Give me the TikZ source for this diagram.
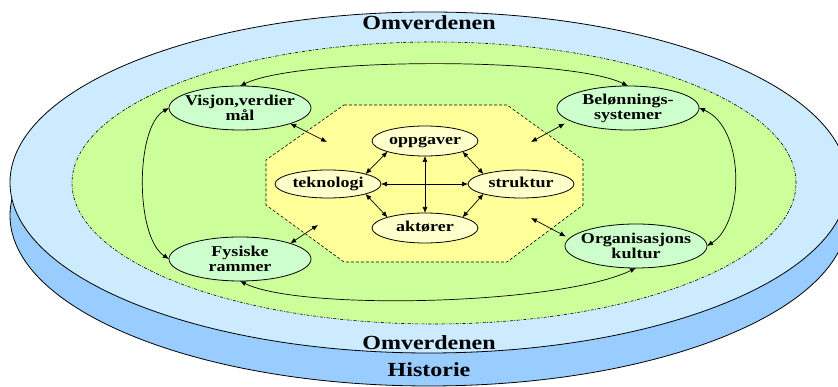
\documentclass[tikz,border=0pt]{standalone}
\usepackage{fontspec}
\setmainfont{Liberation Serif}[FakeStretch=1.2]
\usetikzlibrary{shapes.geometric,arrows.meta}
\definecolor{histblue}{HTML}{99CCFF}
\definecolor{worldblue}{HTML}{CCEBFF}
\definecolor{orggreen}{HTML}{CCFF99}
\definecolor{coreyellow}{HTML}{FFFF99}
\definecolor{taskyellow}{HTML}{FFFFCC}
\definecolor{partgreen}{HTML}{CCFFCC}
\begin{document}
\begin{tikzpicture}[%
    x=1pt,y=1pt,
    every node/.style={%
      font=\fontsize{15}{15}\selectfont\bfseries,outer sep=0pt},
    coreell/.style={draw,ellipse,fill=taskyellow,line width=0.8pt,
      inner xsep=-10pt,inner ysep=-4pt,text height=10pt,text depth=3pt,
      minimum width=106pt,minimum height=30pt},
    partell/.style={draw,ellipse,fill=partgreen,line width=0.8pt,align=center,
      inner xsep=-20pt,inner ysep=-8pt,minimum width=142pt,minimum height=44pt},
    link/.style={{Latex[length=6pt,width=5pt]}-{Latex[length=6pt,width=5pt]},
      line width=0.7pt},
    title/.style={font=\fontsize{20}{20}\selectfont\bfseries,anchor=base}
    ]
    \useasboundingbox (0,0) rectangle (838,387);
    \clip (0,0) rectangle (838,387);
    \filldraw[fill=histblue,line width=0.8pt]
    (429,171.5) ellipse[x radius=419,y radius=170.5];
    \filldraw[fill=worldblue,line width=0.8pt]
    (429,204.5) ellipse[x radius=419,y radius=170.5];
    \filldraw[fill=orggreen,line width=0.6pt,
    dash pattern=on 3pt off 1.5pt on 0.8pt off 1.5pt]
    (434,204) ellipse[x radius=362,y radius=141];
    \filldraw[fill=coreyellow,line width=0.6pt,dash pattern=on 3pt off 2pt]
    (344,282) -- (507,282) -- (583,227) -- (583,182) -- (507,125)
    -- (344,125) -- (266,182) -- (266,227) -- cycle;
    \node[title] at (429,357) (topname) {Omverdenen};
    \node[title] at (429,37) (botname) {Omverdenen};
    \node[title] at (429,10) (histname) {Historie};
    \node[coreell] at (425,246) (opg) {oppgaver};
    \node[coreell,minimum height=28pt] at (328,203) (tek) {teknologi};
    \node[coreell,minimum height=28pt] at (521,203) (str) {struktur};
    \node[coreell] at (425,159) (akt) {aktører};
    \node[partell] at (240,279) (vis) {Visjon,verdier\\mål};
    \node[partell] at (628,279) (bel) {Belønnings-\\systemer};
    \node[partell] at (240,128) (fys) {Fysiske\\rammer};
    \node[partell] at (636,141) (org) {Organisasjons\\kultur};
    \coordinate (hexNW) at (327,245);
    \coordinate (hexNE) at (531,245);
    \coordinate (hexSW) at (318,162);
    \coordinate (hexSE) at (531,169);
    \draw[link] (opg.south west) -- (tek.north east);
    \draw[link] (opg.south east) -- (str.north west);
    \draw[link] (tek.south east) -- (akt.north west);
    \draw[link] (str.south west) -- (akt.north east);
    \draw[link] (tek.east) -- (str.west);
    \draw[link] (opg.south) -- (akt.north);
    \draw[link] (vis.south east) -- (hexNW);
    \draw[link] ([xshift=-13pt]bel.south west) -- (hexNE);
    \draw[link] (fys.north east) -- (hexSW);
    \draw[link] ([shift={(-20pt,-6pt)}]org.north west) -- (hexSE);
    \draw[link] (vis.north) .. controls (300,330) and (570,330) .. (bel.north);
    \draw[link] (vis.west) .. controls (135,260) and (135,150) .. (fys.west);
    \draw[link] (bel.east) .. controls (745,260) and (745,165) .. (org.east);
    \draw[link] (fys.south) .. controls (300,76) and (560,82) .. (org.south);
  \end{tikzpicture}
\end{document}
